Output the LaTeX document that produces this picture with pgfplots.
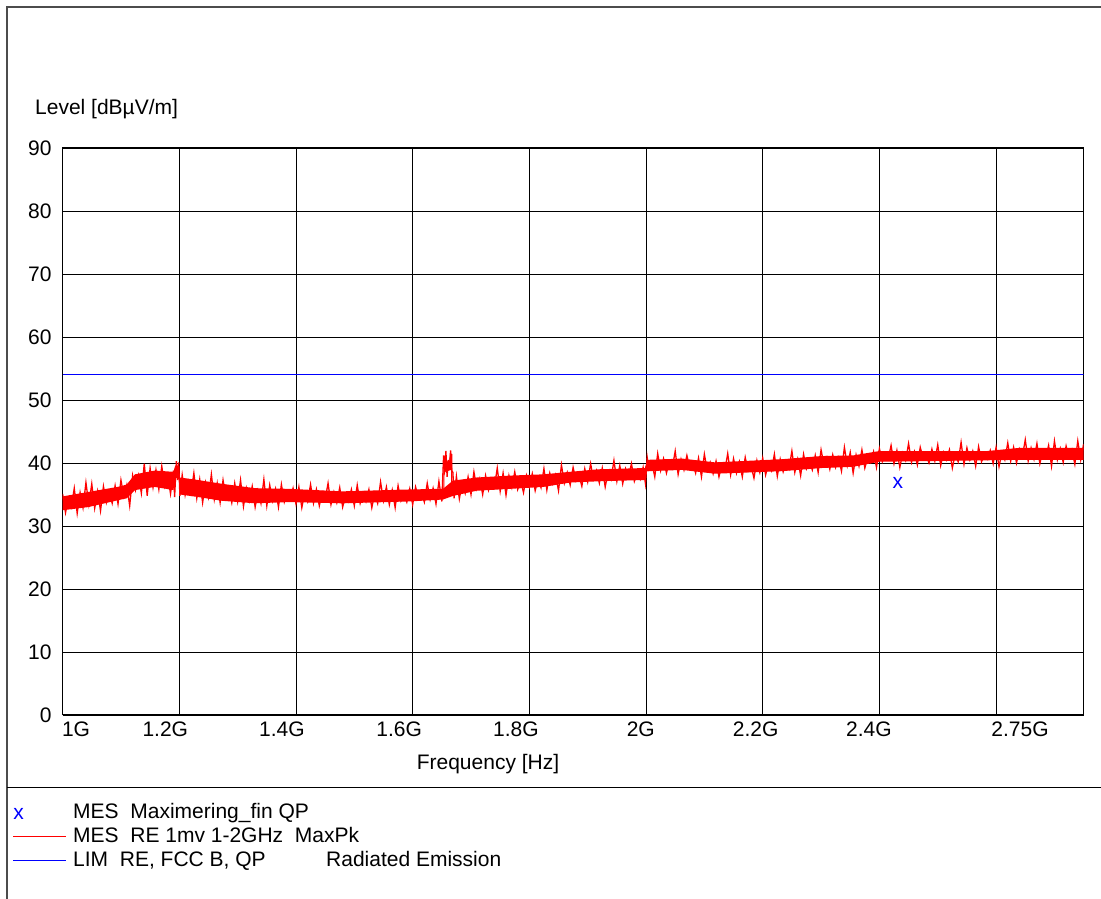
\documentclass[border=0pt]{standalone}
\usepackage{pgfplots}
\pgfplotsset{compat=1.18}
\usepackage{fontspec}
\setmainfont{Liberation Sans}
\begin{document}
\begin{tikzpicture}[font=\fontsize{21bp}{25bp}\selectfont]
\path[use as bounding box] (0,0) rectangle (1101bp,899bp);
\begin{axis}[
  at={(62.6bp,184bp)}, anchor=south west,
  scale only axis, width=1021bp, height=567bp,
  xmin=1, xmax=2.75, ymin=0, ymax=90,
  axis line style={black, line width=1bp},
  /pgf/number format/assume math mode=true,
  xtick={1.023,1.176,1.376,1.577,1.777,1.991,2.188,2.382,2.641},
  xticklabels={1G,1.2G,1.4G,1.6G,1.8G,2G,2.2G,2.4G,2.75G},
  extra x ticks={1.2,1.4,1.6,1.8,2.0,2.2,2.4,2.6},
  extra x tick labels={},
  extra x tick style={xmajorgrids=true},
  ytick={0,10,20,30,40,50,60,70,80,90},
  yticklabels={0,10,20,30,40,50,60,70,80,90},
  ymajorgrids=true,
  major grid style={black, line width=0.8bp},
  major tick length=0pt,
  xticklabel style={yshift=-3bp},
  yticklabel style={xshift=-7.5bp},
]
% core of the noisy measurement band
\addplot[fill=red, draw=none] coordinates {
(1.000,34.7)(1.044,35.4)(1.100,36.3)(1.110,36.6)(1.124,38.2)(1.158,38.8)(1.190,38.6)(1.193,39.6)(1.200,39.6)(1.201,37.7)(1.232,37.3)(1.273,36.7)(1.330,36.0)(1.387,35.9)(1.480,35.5)(1.595,35.8)(1.652,35.9)(1.669,37.2)(1.710,37.7)(1.767,38.0)(1.824,38.2)(1.870,38.6)(1.918,39.0)(1.998,39.2)(2.002,40.5)(2.062,40.7)(2.118,40.1)(2.233,40.6)(2.300,41.1)(2.355,41.2)(2.400,41.9)(2.585,41.9)(2.640,42.4)(2.750,42.4)
(2.750,40.5)(2.640,40.5)(2.400,40.2)(2.355,39.4)(2.300,39.2)(2.233,38.7)(2.118,38.3)(2.062,38.9)(2.002,38.7)(1.998,37.3)(1.918,37.1)(1.870,36.9)(1.824,36.2)(1.767,35.9)(1.710,35.6)(1.670,34.8)(1.652,34.2)(1.595,33.9)(1.480,33.6)(1.387,33.8)(1.330,33.6)(1.273,34.0)(1.232,34.6)(1.201,35.0)(1.200,37.6)(1.193,37.6)(1.190,35.7)(1.158,36.2)(1.124,35.7)(1.110,34.4)(1.100,34.2)(1.044,33.0)(1.000,32.5)
} --cycle;
% spike near 1.66 GHz
\addplot[fill=red, draw=none] coordinates {
(1.6525,34.5)(1.6525,40.8)(1.6545,41.2)(1.6565,40.6)(1.6580,41.0)(1.6600,39.4)(1.6620,39.6)(1.6640,41.6)(1.6680,41.4)(1.6680,35.0)(1.6660,35.0)(1.6660,38.9)(1.6560,38.6)(1.6545,38.0)(1.6545,34.5)
} --cycle;
% MES RE 1mv 1-2GHz MaxPk
\addplot[red, line width=1.3bp] table {
1.000 35.1
1.005 32.1
1.010 34.4
1.015 33.0
1.020 36.0
1.025 32.0
1.030 35.3
1.035 32.9
1.040 36.9
1.045 33.4
1.050 36.7
1.055 32.8
1.060 35.5
1.065 32.4
1.070 36.3
1.075 33.7
1.080 35.3
1.085 33.6
1.090 36.4
1.095 33.5
1.100 37.3
1.105 34.7
1.110 36.5
1.115 33.2
1.120 38.0
1.125 35.7
1.130 38.0
1.135 35.2
1.140 39.9
1.145 34.8
1.150 39.2
1.155 36.1
1.160 38.9
1.165 35.8
1.170 39.5
1.175 36.3
1.180 38.0
1.185 35.1
1.190 38.8
1.192 34.6
1.195 40.3
1.197 37.3
1.199 40.1
1.201 34.8
1.205 38.1
1.210 34.9
1.215 37.1
1.220 35.2
1.225 38.4
1.230 34.4
1.235 37.4
1.240 33.7
1.245 36.9
1.250 34.6
1.255 38.2
1.260 34.2
1.265 36.8
1.270 33.7
1.275 37.3
1.280 34.5
1.285 36.0
1.290 33.7
1.295 36.8
1.300 33.9
1.305 37.3
1.310 33.1
1.315 36.0
1.320 34.0
1.325 36.3
1.330 33.0
1.335 35.6
1.340 33.6
1.345 37.4
1.350 33.2
1.355 36.5
1.360 34.0
1.365 35.9
1.370 33.0
1.375 36.6
1.380 33.8
1.385 35.2
1.390 34.2
1.395 36.0
1.400 33.5
1.405 36.2
1.410 32.9
1.415 35.3
1.420 33.9
1.425 36.6
1.430 33.6
1.435 35.8
1.440 33.2
1.445 35.3
1.450 34.2
1.455 36.8
1.460 33.4
1.465 35.4
1.470 33.7
1.475 36.1
1.480 33.0
1.485 34.9
1.490 33.9
1.495 35.8
1.500 33.2
1.505 36.5
1.510 33.6
1.515 35.3
1.520 33.9
1.525 35.8
1.530 32.9
1.535 35.2
1.540 33.6
1.545 37.0
1.550 34.0
1.555 36.2
1.560 33.4
1.565 35.7
1.570 32.9
1.575 36.4
1.580 34.0
1.585 35.1
1.590 33.8
1.595 35.9
1.600 33.4
1.605 36.2
1.610 34.5
1.615 35.3
1.620 33.8
1.625 36.8
1.630 34.2
1.635 36.0
1.640 33.5
1.645 37.1
1.650 33.9
1.653 41.2
1.655 38.9
1.657 41.9
1.659 37.8
1.661 40.5
1.663 39.0
1.665 42.0
1.667 38.8
1.669 38.5
1.671 34.4
1.675 37.9
1.680 34.3
1.685 36.8
1.690 35.2
1.695 37.8
1.700 35.0
1.705 38.6
1.710 35.9
1.715 37.5
1.720 35.0
1.725 38.0
1.730 35.7
1.735 37.4
1.740 36.1
1.745 39.2
1.750 35.5
1.755 38.4
1.760 34.9
1.765 38.0
1.770 36.1
1.775 38.6
1.780 35.8
1.785 37.2
1.790 35.3
1.795 38.0
1.800 36.2
1.805 38.3
1.810 35.6
1.815 37.5
1.820 36.1
1.825 39.1
1.830 35.7
1.835 38.4
1.840 36.7
1.845 38.1
1.850 35.6
1.855 39.7
1.860 36.8
1.865 38.5
1.870 36.5
1.875 39.3
1.880 37.2
1.885 38.1
1.890 36.3
1.895 39.1
1.900 37.0
1.905 39.9
1.910 37.4
1.915 38.8
1.920 36.8
1.925 39.2
1.930 36.2
1.935 38.6
1.940 37.4
1.945 40.4
1.950 37.1
1.955 39.6
1.960 36.7
1.965 39.1
1.970 37.8
1.975 39.9
1.980 37.1
1.985 38.5
1.990 37.4
1.995 39.3
1.999 36.7
2.002 40.9
2.005 39.0
2.010 40.0
2.015 37.8
2.020 41.5
2.025 38.8
2.030 40.7
2.035 38.4
2.040 40.3
2.045 39.2
2.050 41.9
2.055 38.2
2.060 40.6
2.065 38.9
2.070 41.2
2.075 39.2
2.080 40.0
2.085 38.4
2.090 40.8
2.095 37.8
2.100 41.4
2.105 38.8
2.110 40.1
2.115 38.3
2.120 40.3
2.125 37.8
2.130 39.8
2.135 38.8
2.140 41.5
2.145 38.1
2.150 40.7
2.155 38.4
2.160 40.2
2.165 37.8
2.170 40.9
2.175 38.7
2.180 39.6
2.185 37.6
2.190 40.4
2.195 38.5
2.200 40.8
2.205 38.1
2.210 40.0
2.215 38.8
2.220 41.4
2.225 37.9
2.230 40.6
2.235 38.6
2.240 40.3
2.245 39.1
2.250 41.9
2.255 38.5
2.260 40.6
2.265 38.0
2.270 41.4
2.275 39.1
2.280 40.3
2.285 38.9
2.290 41.2
2.295 38.5
2.300 42.1
2.305 39.7
2.310 40.9
2.315 39.0
2.320 41.3
2.325 39.3
2.330 40.8
2.335 38.7
2.340 42.5
2.345 39.6
2.350 41.7
2.355 38.4
2.360 41.3
2.365 39.5
2.370 42.1
2.375 39.2
2.380 40.9
2.385 40.1
2.390 41.8
2.395 39.3
2.400 42.3
2.405 40.2
2.410 41.4
2.415 40.6
2.420 42.8
2.425 39.9
2.430 42.0
2.435 39.3
2.440 41.6
2.445 40.4
2.450 43.1
2.455 40.1
2.460 41.8
2.465 39.7
2.470 42.5
2.475 40.7
2.480 41.3
2.485 40.0
2.490 42.2
2.495 40.3
2.500 42.9
2.505 39.6
2.510 41.7
2.515 40.5
2.520 42.1
2.525 39.2
2.530 41.5
2.535 40.2
2.540 43.3
2.545 39.8
2.550 42.4
2.555 40.5
2.560 41.9
2.565 39.5
2.570 42.6
2.575 40.2
2.580 41.2
2.585 40.6
2.590 42.0
2.595 39.9
2.600 42.5
2.605 39.4
2.610 41.7
2.615 40.5
2.620 43.2
2.625 40.3
2.630 42.5
2.635 40.0
2.640 42.2
2.645 41.0
2.650 43.7
2.655 40.3
2.660 42.4
2.665 40.6
2.670 43.1
2.675 39.9
2.680 41.9
2.685 40.8
2.690 42.8
2.695 39.5
2.700 43.5
2.705 40.5
2.710 42.3
2.715 40.1
2.720 42.7
2.725 40.8
2.730 42.1
2.735 39.8
2.740 43.5
2.745 40.5
2.750 43.0
};
% LIM RE, FCC B, QP
\addplot[blue, line width=0.8bp] coordinates {(1,54)(2.75,54)};
% MES Maximering_fin QP
\addplot[only marks, mark=text, text mark={x}, text mark as node=true,
  mark options={text=blue, font=\fontsize{21bp}{25bp}\selectfont}] coordinates {(2.4315,36.9)};
\end{axis}
% frame
\draw[black!70, line width=1.2bp] (7bp,0) -- (7bp,892bp) -- (1101bp,892bp);
\draw[black, line width=1bp] (7bp,111bp) -- (1101bp,111bp);
% axis titles
\node[anchor=base west, inner sep=0] at (35bp,784bp) {Level [dBµV/m]};
\node[anchor=base, inner sep=0] at (488bp,129bp) {Frequency [Hz]};
% legend
\node[anchor=base, inner sep=0, text=blue] at (18.5bp,79bp) {x};
\node[anchor=base west, inner sep=0] at (73bp,80bp) {MES\ \ Maximering\_fin QP};
\draw[red, line width=0.8bp] (13bp,63bp) -- (66bp,63bp);
\node[anchor=base west, inner sep=0] at (73bp,56bp) {MES\ \ RE 1mv 1-2GHz\ \ MaxPk};
\draw[blue, line width=0.8bp] (13bp,39bp) -- (66bp,39bp);
\node[anchor=base west, inner sep=0] at (73bp,33bp) {LIM\ \ RE, FCC B, QP};
\node[anchor=base west, inner sep=0] at (326bp,33bp) {Radiated Emission};
\end{tikzpicture}
\end{document}
